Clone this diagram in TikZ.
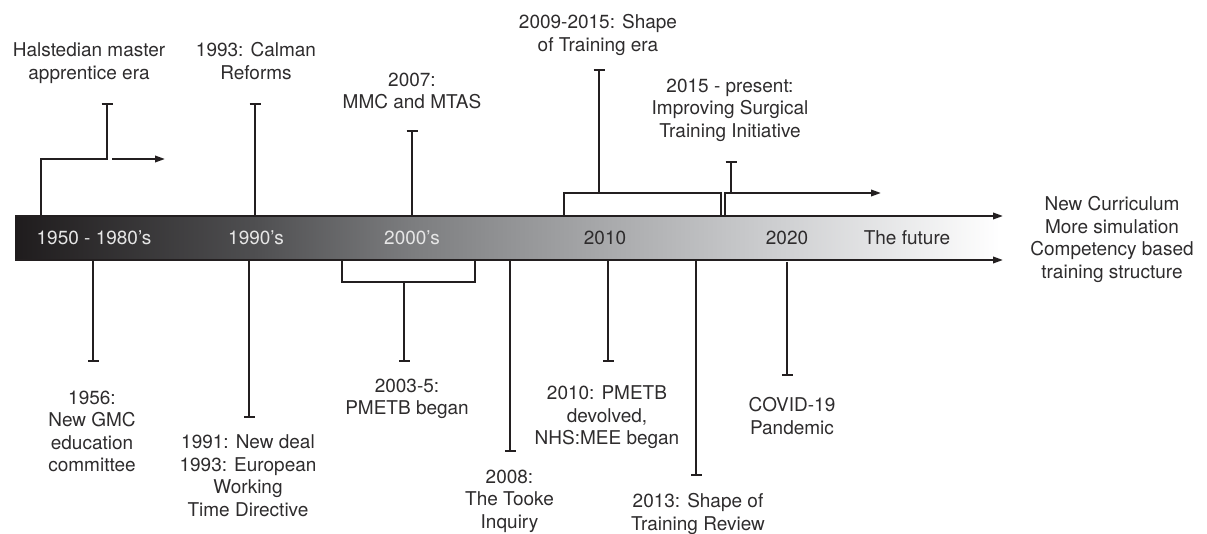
\documentclass[tikz,border=0pt]{standalone}
\usepackage{fontspec}
\setmainfont{TeX Gyre Heros}
\usetikzlibrary{arrows.meta}
\definecolor{ink}{HTML}{231F20}
\definecolor{txt}{HTML}{2E2C2D}
\definecolor{lighttxt}{HTML}{E6E6E6}
\definecolor{g0}{HTML}{1F1C1D}
\definecolor{g1}{HTML}{4F4F51}
\definecolor{g2}{HTML}{7C7D7F}
\definecolor{g3}{HTML}{A8A9AB}
\definecolor{g4}{HTML}{D0D1D3}
\definecolor{g5}{HTML}{FFFFFF}
\begin{document}
\begin{tikzpicture}[x=1pt,y=-1pt,
  ln/.style={draw=ink,line width=2pt},
  capped/.style={ln,-{Bar[width=11pt,line width=2pt]}},
  arr/.style={ln,-{Triangle[length=10pt,width=6.5pt]}},
  lbl/.style={font=\fontsize{19}{22.5}\selectfont,text=txt,align=center,anchor=north,inner sep=0pt},
  barlbl/.style={font=\fontsize{19}{22.5}\selectfont,anchor=base,inner sep=0pt}]
\useasboundingbox (0,0) rectangle (1207,534);
% bar shading
\shade[left color=g0,right color=g1] (15,216) rectangle (256.5,260);
\shade[left color=g1,right color=g2] (256,216) rectangle (412.5,260);
\shade[left color=g2,right color=g3] (412,216) rectangle (605.5,260);
\shade[left color=g3,right color=g4] (605,216) rectangle (787.5,260);
\shade[left color=g4,right color=g5] (787,216) rectangle (1000,260);
% bar borders
\coordinate (topL) at (15,216);
\coordinate (topR) at (1003,216);
\coordinate (botL) at (15,260);
\coordinate (botR) at (1003,260);
\draw[arr] (topL) -- (topR);
\draw[arr] (botL) -- (botR);
% bar labels
\node[barlbl,text=lighttxt] (b1950) at (94,245) {1950 - 1980's};
\node[barlbl,text=lighttxt] (b1990) at (256,245) {1990's};
\node[barlbl,text=lighttxt] (b2000) at (412,245) {2000's};
\node[barlbl,text=txt] (b2010) at (605,245) {2010};
\node[barlbl,text=txt] (b2020) at (787,245) {2020};
\node[barlbl,text=txt] (bfut) at (907,245) {The future};
% top labels
\node[lbl] (halst) at (89,42.5) {Halstedian master\\apprentice era};
\node[lbl] (calman) at (256,42.5) {1993: Calman\\Reforms};
\node[lbl] (mmc) at (412,72.5) {2007:\\MMC and MTAS};
\node[lbl] (shape) at (598,14.5) {2009-2015: Shape\\of Training era};
\node[lbl] (isti) at (730,78.5) {2015 - present:\\Improving Surgical\\Training Initiative};
\node[lbl] (future) at (1112,196.5) {New Curriculum\\More simulation\\Competency based\\training structure};
% bottom labels
\node[lbl] (gmc) at (92,390.5) {1956:\\New GMC\\education\\committee};
\node[lbl] (ewtd) at (248,434.5) {1991: New deal\\1993: European\\Working\\Time Directive};
\node[lbl] (pmetb) at (407,378.5) {2003-5:\\PMETB began};
\node[lbl] (tooke) at (509.5,469.5) {2008:\\The Tooke\\Inquiry};
\node[lbl] (nhsmee) at (607,385.5) {2010: PMETB\\devolved,\\NHS:MEE began};
\node[lbl] (sotr) at (698,493.5) {2013: Shape of\\Training Review};
\node[lbl] (covid) at (792,397.5) {COVID-19\\Pandemic};
% top connectors
\coordinate (h0) at (41,216);
\coordinate (h1) at (41,159);
\coordinate (h2) at (107,159);
\coordinate (hEnd) at (107,103);
\draw[capped] (h0) -- (h1) -- (h2) -- (hEnd);
\coordinate (hA) at (112,159);
\coordinate (hB) at (165,159);
\draw[arr] (hA) -- (hB);
\coordinate (c0) at (255,216);
\coordinate (cEnd) at (255,103);
\draw[capped] (c0) -- (cEnd);
\coordinate (m0) at (412,216);
\coordinate (mEnd) at (412,130);
\draw[capped] (m0) -- (mEnd);
\coordinate (s0) at (564,216);
\coordinate (s1) at (564,193);
\coordinate (s2) at (721,193);
\coordinate (s3) at (721,216);
\draw[ln] (s0) -- (s1) -- (s2) -- (s3);
\coordinate (sMid) at (599,193);
\coordinate (sEnd) at (599,69);
\draw[capped] (sMid) -- (sEnd);
\coordinate (i0) at (725,216);
\coordinate (i1) at (725,193);
\coordinate (i2) at (881,193);
\draw[arr] (i0) -- (i1) -- (i2);
\coordinate (iMid) at (731,193);
\coordinate (iEnd) at (731,161);
\draw[capped] (iMid) -- (iEnd);
% bottom connectors
\coordinate (g0a) at (93,260);
\coordinate (gEnd) at (93,362);
\draw[capped] (g0a) -- (gEnd);
\coordinate (e0) at (249,260);
\coordinate (eEnd) at (249,418);
\draw[capped] (e0) -- (eEnd);
\coordinate (p0) at (342,260);
\coordinate (p1) at (342,282);
\coordinate (p2) at (475,282);
\coordinate (p3) at (475,260);
\draw[ln] (p0) -- (p1) -- (p2) -- (p3);
\coordinate (pMid) at (404,282);
\coordinate (pEnd) at (404,362);
\draw[capped] (pMid) -- (pEnd);
\coordinate (t0) at (510,260);
\coordinate (tEnd) at (510,452);
\draw[capped] (t0) -- (tEnd);
\coordinate (n0) at (608,260);
\coordinate (nEnd) at (608,362);
\draw[capped] (n0) -- (nEnd);
\coordinate (r0) at (696,260);
\coordinate (rEnd) at (696,476);
\draw[capped] (r0) -- (rEnd);
\coordinate (v0) at (787,262);
\coordinate (vEnd) at (787,376);
\draw[capped] (v0) -- (vEnd);
\end{tikzpicture}
\end{document}
